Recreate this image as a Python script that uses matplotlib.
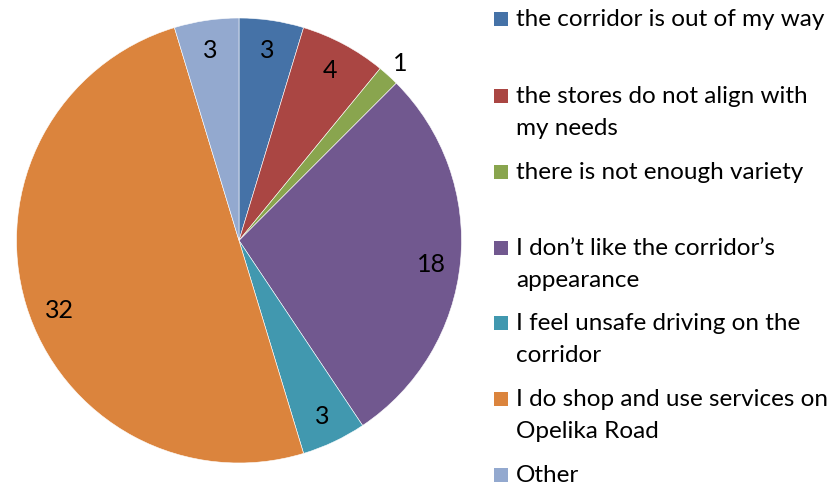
import matplotlib
matplotlib.use("Agg")
import matplotlib.pyplot as plt
from matplotlib.patches import Rectangle

categories = [
    "the corridor is out of my way",
    "the stores do not align with\nmy needs",
    "there is not enough variety",
    "I don\u2019t like the corridor\u2019s\nappearance",
    "I feel unsafe driving on the\ncorridor",
    "I do shop and use services on\nOpelika Road",
    "Other",
]
values = [3, 4, 1, 18, 3, 32, 3]
colors = ["#4572A7", "#AA4643", "#89A54E", "#71588F", "#4198AF", "#DB843D", "#93A9CF"]

W, H = 833, 485
fig = plt.figure(figsize=(W / 100, H / 100), dpi=100)
plt.rcParams['font.family'] = ['Lato', 'DejaVu Sans']

cx, cy, r = 239, 241.5, 222.5
ax = fig.add_axes([(cx - r) / W, (H - cy - r) / H, 2 * r / W, 2 * r / H])
wedges, texts = ax.pie(values, colors=colors, startangle=90, counterclock=False,
                       radius=1.0, labels=[str(v) for v in values], labeldistance=0.87,
                       wedgeprops=dict(edgecolor="white", linewidth=0.4),
                       textprops=dict(fontsize=18, color="black"))
for t in texts:
    t.set_ha("center")
    t.set_va("center")
# small slice label sits outside
x2, y2 = texts[2].get_position()
texts[2].set_position((x2 / 0.87 * 1.08, y2 / 0.87 * 1.08))
# large slice label placed a bit lower (best fit)
texts[5].set_position((-0.805, -0.31))
x3, y3 = texts[3].get_position()
texts[3].set_position((x3, y3 - 0.02))
ax.set_xlim(-1, 1)
ax.set_ylim(-1, 1)
ax.set_aspect("equal")
ax.axis("off")

# legend
centers = [20, 97, 173, 249, 324, 400, 476]
for lab, col, yc in zip(categories, colors, centers):
    fig.patches.append(Rectangle((494 / W, (H - yc - 7) / H), 14 / W, 14 / H,
                                 transform=fig.transFigure, facecolor=col, edgecolor="none"))
    fig.text(516 / W, (H - yc + 11) / H, lab, ha="left", va="top", fontsize=17.5,
             linespacing=1.66, color="black")

fig.savefig("out.png", dpi=100)
